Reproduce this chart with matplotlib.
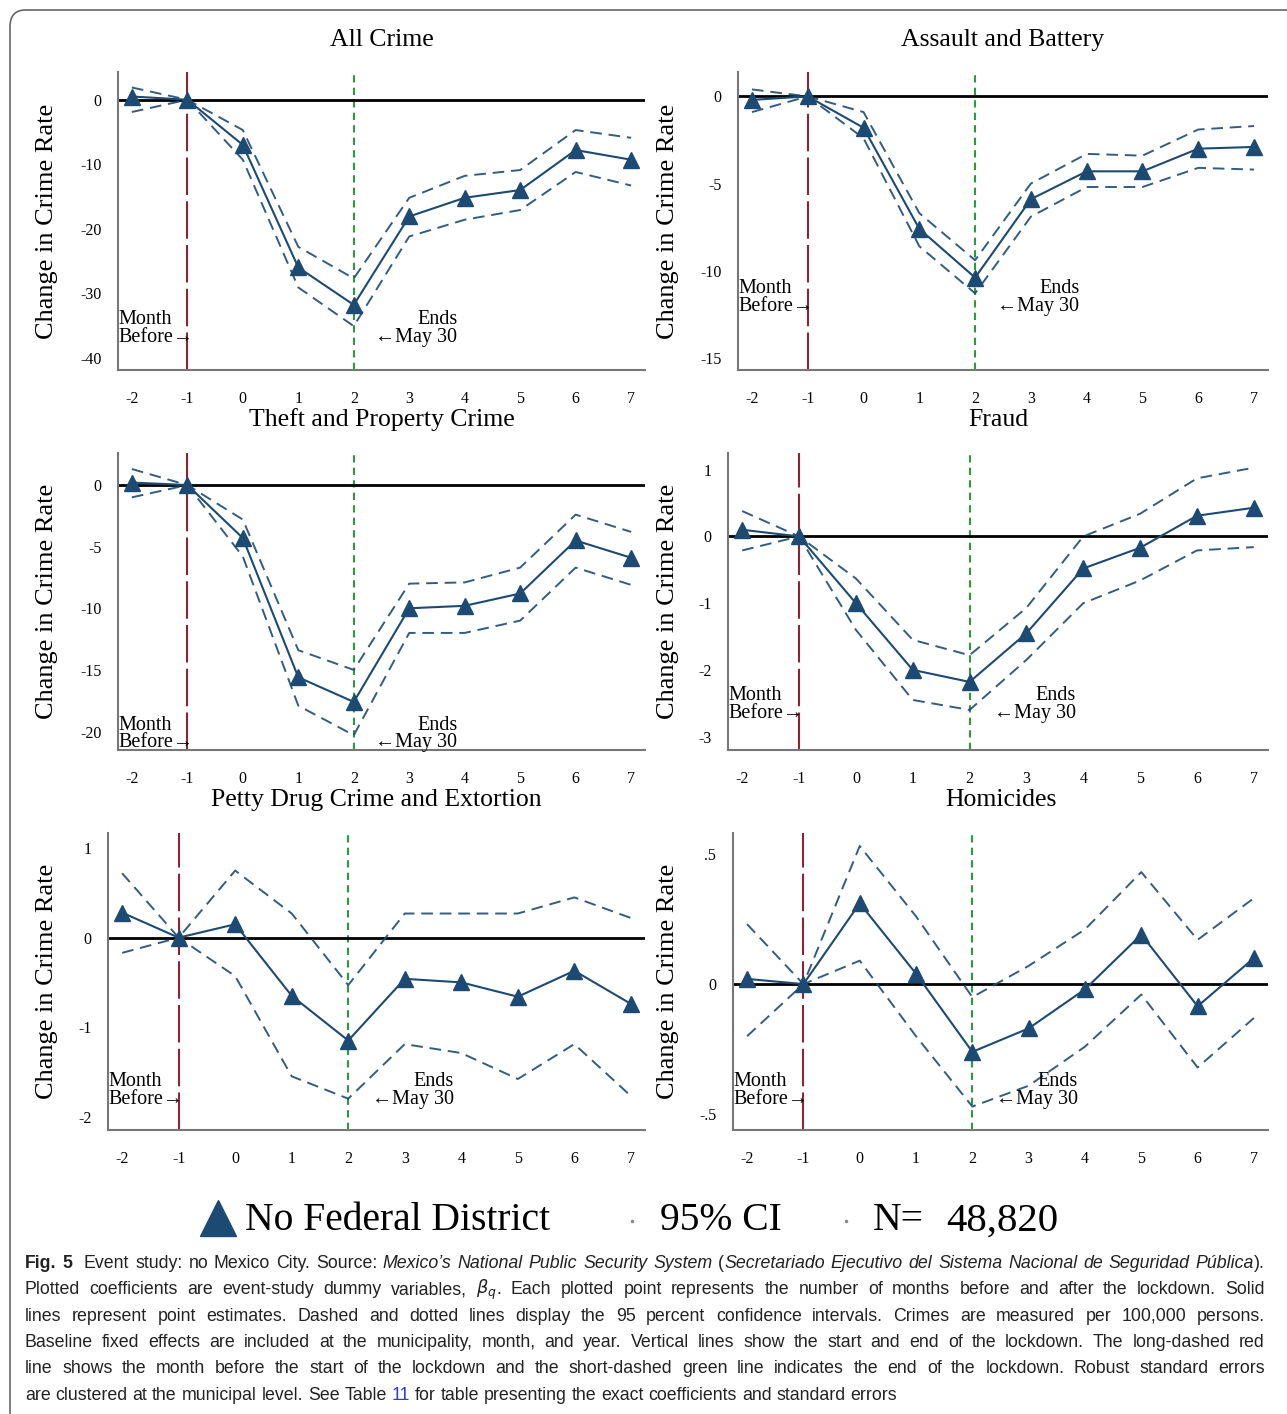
import numpy as np
import matplotlib.pyplot as plt
from matplotlib.lines import Line2D
from matplotlib.patches import FancyBboxPatch

# months relative to lockdown start
months = [-2, -1, 0, 1, 2, 3, 4, 5, 6, 7]
month_labels = ['-2', '-1', '0', '1', '2', '3', '4', '5', '6', '7']

titles = ['All Crime', 'Assault and Battery', 'Theft and Property Crime',
          'Fraud', 'Petty Drug Crime and Extortion', 'Homicides']

all_coef = [0.5, 0, -7.0, -26.0, -31.8, -18.1, -15.2, -14.0, -7.8, -9.3]
all_hi = [1.9, 0, -4.7, -22.8, -27.7, -15.2, -11.8, -10.9, -4.7, -5.9]
all_lo = [-1.9, 0, -9.3, -29.1, -35.1, -21.2, -18.6, -17.1, -11.2, -13.3]

asl_coef = [-0.2, 0, -1.8, -7.6, -10.4, -5.9, -4.3, -4.3, -3.0, -2.9]
asl_hi = [0.4, 0, -0.9, -6.7, -9.4, -5.0, -3.3, -3.4, -1.9, -1.7]
asl_lo = [-0.9, 0, -2.4, -8.6, -11.3, -6.9, -5.2, -5.2, -4.1, -4.2]

thf_coef = [0.2, 0, -4.3, -15.6, -17.6, -10.0, -9.8, -8.8, -4.5, -5.9]
thf_hi = [1.3, 0, -2.8, -13.4, -15.0, -8.0, -7.9, -6.7, -2.4, -3.8]
thf_lo = [-1.0, 0, -5.8, -17.9, -20.3, -12.0, -12.0, -11.0, -6.7, -8.1]

frd_coef = [0.1, 0, -1.0, -2.0, -2.18, -1.45, -0.48, -0.17, 0.31, 0.43]
frd_hi = [0.38, 0, -0.63, -1.55, -1.78, -1.07, 0.0, 0.34, 0.87, 1.03]
frd_lo = [-0.21, 0, -1.4, -2.45, -2.6, -1.85, -1.0, -0.66, -0.21, -0.16]

drg_coef = [0.28, 0, 0.15, -0.65, -1.15, -0.46, -0.5, -0.66, -0.37, -0.74]
drg_hi = [0.72, 0, 0.75, 0.27, -0.53, 0.27, 0.27, 0.27, 0.45, 0.22]
drg_lo = [-0.17, 0, -0.43, -1.55, -1.8, -1.19, -1.29, -1.58, -1.19, -1.77]

hom_coef = [0.02, 0, 0.31, 0.04, -0.26, -0.17, -0.02, 0.19, -0.085, 0.1]
hom_hi = [0.23, 0, 0.53, 0.26, -0.05, 0.07, 0.21, 0.43, 0.17, 0.33]
hom_lo = [-0.2, 0, 0.09, -0.2, -0.47, -0.39, -0.24, -0.04, -0.32, -0.13]

yticks_list = [[0, -10, -20, -30, -40], [0, -5, -10, -15], [0, -5, -10, -15, -20],
               [1, 0, -1, -2, -3], [1, 0, -1, -2], [0.5, 0, -0.5]]
ylabels_list = [['0', '-10', '-20', '-30', '-40'], ['0', '-5', '-10', '-15'],
                ['0', '-5', '-10', '-15', '-20'], ['1', '0', '-1', '-2', '-3'],
                ['1', '0', '-1', '-2'], ['.5', '0', '-.5']]
ylims = [(-41.9, 4.3), (-15.7, 1.4), (-21.5, 2.6), (-3.2, 1.25), (-2.15, 1.17), (-0.56, 0.58)]

coefs = [all_coef, asl_coef, thf_coef, frd_coef, drg_coef, hom_coef]
his = [all_hi, asl_hi, thf_hi, frd_hi, drg_hi, hom_hi]
los = [all_lo, asl_lo, thf_lo, frd_lo, drg_lo, hom_lo]

W, H = 1287, 1414
NAVY = '#1d4a72'
SERIF = ['Liberation Serif', 'DejaVu Serif']

fig = plt.figure(figsize=(W / 100, H / 100), dpi=100)
fig.patch.set_facecolor('white')

# journal frame
fig.add_artist(FancyBboxPatch((10 / W, 1 - 1440 / H), 1300 / W, 1430 / H,
                              boxstyle='round,pad=0,rounding_size=0.012',
                              transform=fig.transFigure, fill=False,
                              edgecolor='#666666', linewidth=1.2))

# panel boxes in pixels: left, top, right, bottom
boxes = [(118, 72, 645, 370), (738, 72, 1268, 370),
         (118, 453, 645, 750), (728, 453, 1268, 750),
         (108, 833, 645, 1130), (733, 833, 1268, 1130)]
title_y = [40, 40, 420, 420, 800, 800]
ylab_x = [47, 668, 47, 668, 47, 668]
annot_y = [0.2, 0.305, 0.115, 0.215, 0.195, 0.195]

for i in range(6):
    l, t, r, b = boxes[i]
    ax = fig.add_axes([l / W, 1 - b / H, (r - l) / W, (b - t) / H])
    ax.set_xlim(-2.25, 7.25)
    ax.set_ylim(*ylims[i])

    ax.axhline(0, color='black', lw=2, zorder=2)
    ax.axvline(-1, color='#8e2433', lw=1.5, ls=(0, (18, 3)), zorder=1)
    ax.axvline(2, color='#2e9a3c', lw=1.5, ls=(0, (3.5, 2.5)), zorder=1)

    ax.plot(months, his[i], color=NAVY, lw=1.4, ls=(0, (6, 3.5)), alpha=0.9, zorder=3)
    ax.plot(months, los[i], color=NAVY, lw=1.4, ls=(0, (6, 3.5)), alpha=0.9, zorder=3)
    ax.plot(months, coefs[i], color=NAVY, lw=1.5, marker='^', ms=12, zorder=4)

    for s in ['top', 'right']:
        ax.spines[s].set_visible(False)
    for s in ['left', 'bottom']:
        ax.spines[s].set_color('#777777')
        ax.spines[s].set_linewidth(1.5)

    ax.set_xticks(months)
    ax.set_xticklabels(month_labels, family=SERIF, fontsize=11.5)
    ax.set_yticks(yticks_list[i])
    ax.set_yticklabels(ylabels_list[i], family=SERIF, fontsize=11.5)
    ax.tick_params(length=0, pad=12)
    ax.tick_params(axis='x', pad=15)

    ay = annot_y[i]
    ax.text(0.0, ay, 'Month\nBefore\u2192', transform=ax.transAxes, family=SERIF,
            fontsize=14.5, va='top', ha='left', linespacing=0.9)
    ax.text(3.87, ay, 'Ends\n\u2190May 30', transform=ax.get_xaxis_transform(),
            family=SERIF, fontsize=14.5, va='top', ha='right', multialignment='right',
            linespacing=0.9)

    cx = (l + r) / 2
    fig.text(cx / W, 1 - title_y[i] / H, titles[i], family=SERIF, fontsize=18.5,
             ha='center', va='center')
    fig.text(ylab_x[i] / W, 1 - ((t + b) / 2) / H, 'Change in Crime Rate', family=SERIF,
             fontsize=19, rotation=90, ha='center', va='center')

# legend row
ly = 1 - 1221 / H
fig.add_artist(Line2D([218 / W], [1 - 1218 / H], marker='^', ms=26, color=NAVY,
                      transform=fig.transFigure))
fig.text(245 / W, ly, 'No Federal District', family=SERIF, fontsize=28.5, va='center')
fig.add_artist(Line2D([632 / W], [ly], marker='o', ms=1.5, color='#888888',
                      transform=fig.transFigure))
fig.text(660 / W, ly, '95% CI', family=SERIF, fontsize=28.5, va='center')
fig.add_artist(Line2D([846 / W], [ly], marker='o', ms=1.5, color='#888888',
                      transform=fig.transFigure))
fig.text(873 / W, ly, 'N=', family=SERIF, fontsize=28.5, va='center')
fig.text(946 / W, ly, '48,820', family=SERIF, fontsize=29.5, va='center')

# caption, word by word so full lines can be justified
renderer = fig.canvas.get_renderer()
CAP = ['Liberation Sans', 'DejaVu Sans']
cap_size = 12.8
X0, X1 = 25, 1265


def text_w(s, **kw):
    t = fig.text(0, 0, s, family=CAP, fontsize=cap_size, **kw)
    w = t.get_window_extent(renderer).width
    t.remove()
    return w


space_w = text_w('a a') - text_w('aa')


def caption_line(y_px, parts, justify):
    tokens = []
    pending = 0
    for txt, style in parts:
        for j, p in enumerate(txt.split(' ')):
            if j > 0:
                pending += 1
            if p:
                tokens.append((p, style, pending))
                pending = 0
    arts = []
    for word, style, sp in tokens:
        kw = dict(family=CAP, fontsize=cap_size, color='#222222', va='baseline')
        if style == 'b':
            kw['weight'] = 'bold'
        elif style == 'i':
            kw['style'] = 'italic'
        elif style == 'link':
            kw['color'] = '#2b3fd6'
        tt = fig.text(0, 1 - y_px / H, word, **kw)
        arts.append((tt, tt.get_window_extent(renderer).width, sp))
    n_sp = sum(a[2] for a in arts[1:])
    natural = sum(a[1] for a in arts) + n_sp * space_w
    gap = space_w
    if justify and n_sp:
        gap = space_w + (X1 - X0 - natural) / n_sp
    x = X0
    for k, (tt, w, sp) in enumerate(arts):
        if k > 0:
            x += sp * gap
        tt.set_x(x / W)
        x += w


cap_lines = [
    [('Fig. 5', 'b'), ('  Event study: no Mexico City. Source: ', ''),
     ('Mexico\u2019s National Public Security System', 'i'), (' (', ''),
     ('Secretariado Ejecutivo del Sistema Nacional de Seguridad P\u00fablica', 'i'), (').', '')],
    [('Plotted coefficients are event-study dummy variables, ', ''), (r'$\beta_q$', 'i'),
     ('. Each plotted point represents the number of months before and after the lockdown. Solid', '')],
    [('lines represent point estimates. Dashed and dotted lines display the 95 percent confidence intervals. Crimes are measured per 100,000 persons.', '')],
    [('Baseline fixed effects are included at the municipality, month, and year. Vertical lines show the start and end of the lockdown. The long-dashed red', '')],
    [('line shows the month before the start of the lockdown and the short-dashed green line indicates the end of the lockdown. Robust standard errors', '')],
    [('are clustered at the municipal level. See Table ', ''), ('11', 'link'),
     (' for table presenting the exact coefficients and standard errors', '')],
]
for k, parts in enumerate(cap_lines):
    caption_line(1268 + k * 26.3, parts, k < 5)

fig.savefig('out.png', dpi=100, facecolor='white')
